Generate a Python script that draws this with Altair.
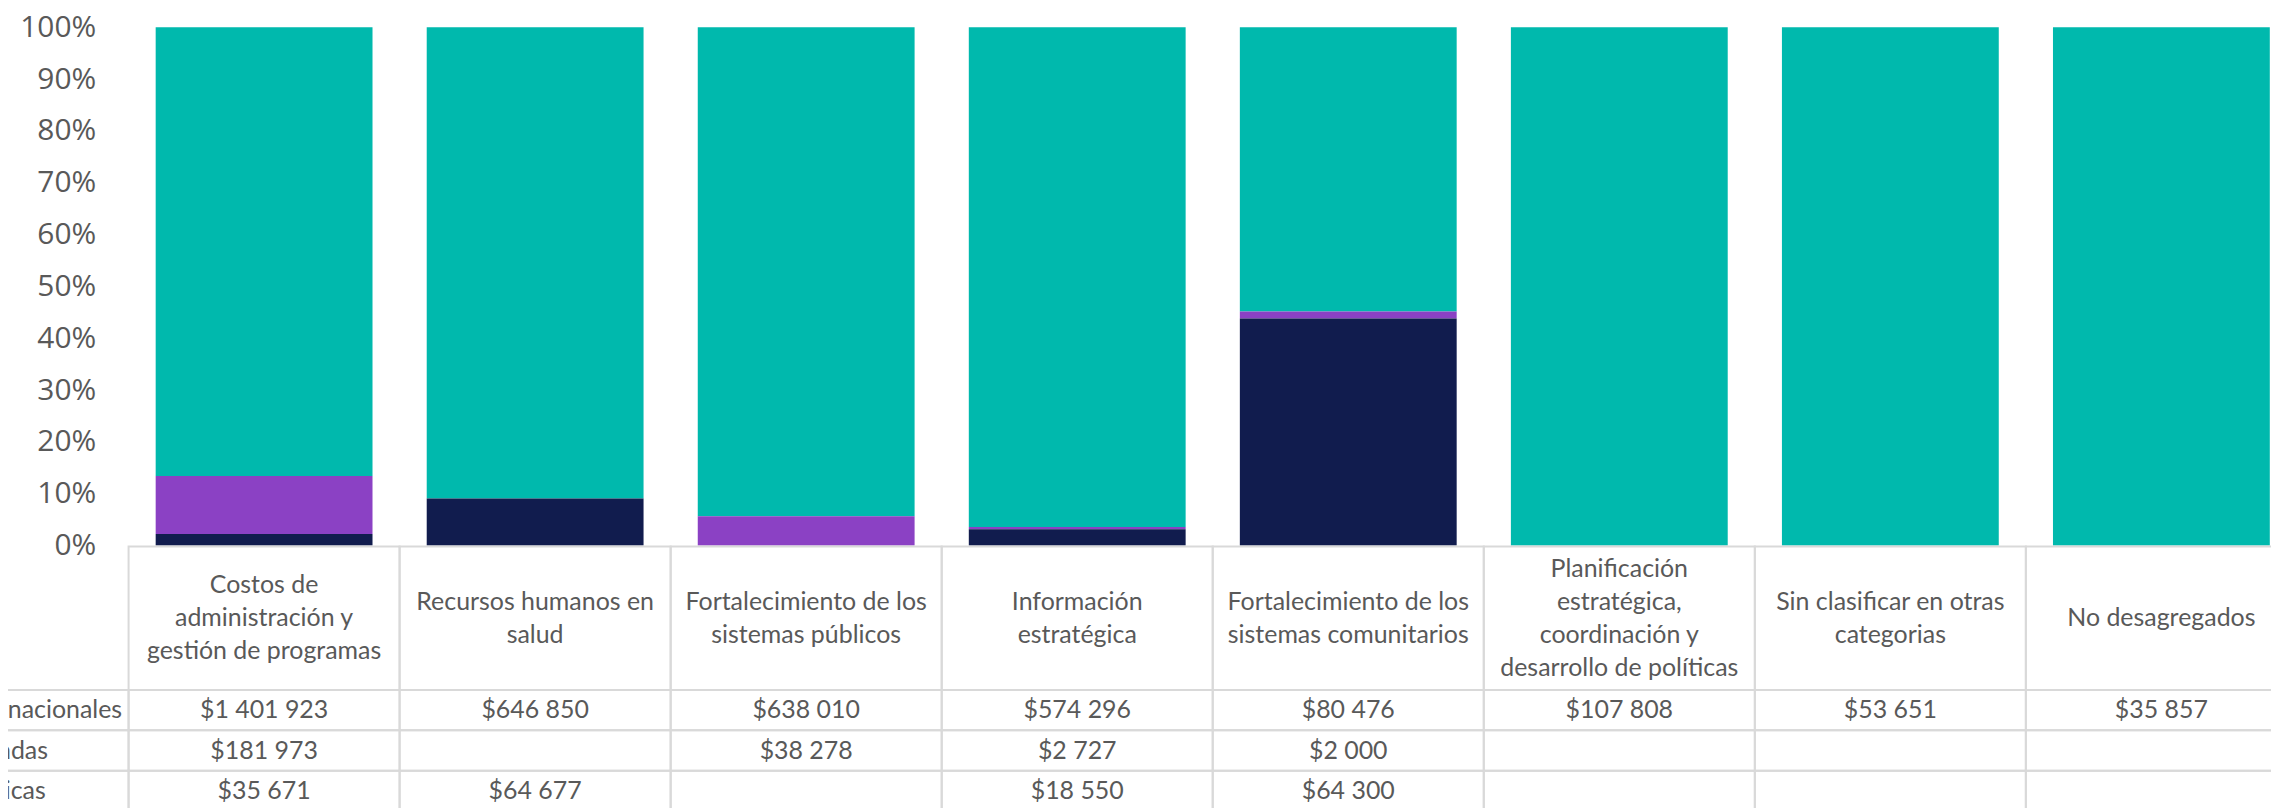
import altair as alt
import pandas as pd

# ---------------- data ----------------
categories = [
    "Costos de administración y gestión de programas",
    "Recursos humanos en salud",
    "Fortalecimiento de los sistemas públicos",
    "Información estratégica",
    "Fortalecimiento de los sistemas comunitarios",
    "Planificación estratégica, coordinación y desarrollo de políticas",
    "Sin clasificar en otras categorias",
    "No desagregados",
]
header_lines = [
    ["Costos de", "administración y", "gestión de programas"],
    ["Recursos humanos en", "salud"],
    ["Fortalecimiento de los", "sistemas públicos"],
    ["Información", "estratégica"],
    ["Fortalecimiento de los", "sistemas comunitarios"],
    ["Planificación", "estratégica,", "coordinación y", "desarrollo de políticas"],
    ["Sin clasificar en otras", "categorias"],
    ["No desagregados"],
]
sources = ["Internacionales", "Privadas", "Públicas"]
internacionales = [1401923, 646850, 638010, 574296, 80476, 107808, 53651, 35857]
privadas = [181973, None, 38278, 2727, 2000, None, None, None]
publicas = [35671, 64677, None, 18550, 64300, None, None, None]
stack_order = {"Públicas": 0, "Privadas": 1, "Internacionales": 2}
colors = ["#00B9AD", "#8B41C4", "#111C4E"]

LABEL_COL = "Fuente"
TEXT = "#595959"
LINE = "#D9D9D9"
FONT = "Lato"
FS = 25


def fmt(v):
    if v is None:
        return ""
    return "$" + f"{int(v):,}".replace(",", " ")


rows = []
for i, c in enumerate(categories):
    for s, vals in zip(sources, [internacionales, privadas, publicas]):
        v = vals[i]
        rows.append({"category": c, "source": s, "value": v,
                     "label": fmt(v), "ord": stack_order[s]})
cells = pd.DataFrame(rows)
bars_df = cells.dropna(subset=["value"])

header_df = pd.DataFrame({"category": categories, "row": "h"})
hl = []
for c, lines in zip(categories, header_lines):
    n = len(lines)
    for k, t in enumerate(lines):
        hl.append({"category": c, "line": t, "pos": k - (n - 1) / 2})
hline_df = pd.DataFrame(hl)

label_rows = pd.DataFrame({"category": LABEL_COL, "source": sources, "label": sources})
body_grid = pd.concat([cells[["category", "source", "label"]], label_rows], ignore_index=True)

STEP = 272
N = len(categories)
BAR_H = 520
HEAD_TOP, HEAD_BOT = 521, 665
ROW_H = 40.5
LINE_H = 33
head_mid = (HEAD_TOP + HEAD_BOT) / 2

bar_x = alt.Scale(domain=categories, range=[0, STEP * N], paddingInner=0.2, paddingOuter=0.1)
tab_x = alt.Scale(domain=[LABEL_COL] + categories, range=[-STEP, STEP * N], paddingInner=0, paddingOuter=0)
head_y = alt.Scale(domain=["h"], range=[HEAD_TOP, HEAD_BOT], paddingInner=0, paddingOuter=0)
line_y = alt.Scale(domain=[-2, 2], range=[head_mid - 2 * LINE_H, head_mid + 2 * LINE_H], nice=False, zero=False)
body_y = alt.Scale(domain=sources, range=[HEAD_BOT, HEAD_BOT + 3 * ROW_H], paddingInner=0, paddingOuter=0)

bars = alt.Chart(bars_df).mark_bar().encode(
    x=alt.X("category:N", scale=bar_x, axis=None),
    y=alt.Y("value:Q", stack="normalize",
            scale=alt.Scale(domain=[0, 1], range=[BAR_H, 0], nice=False),
            axis=alt.Axis(values=[i / 10 for i in range(11)], format=".0%",
                          domain=False, ticks=False, grid=False, title=None,
                          labelFont="Open Sans", labelFontSize=30,
                          labelColor=TEXT, labelPadding=33)),
    color=alt.Color("source:N", scale=alt.Scale(domain=sources, range=colors), legend=None),
    order=alt.Order("ord:Q"),
)

head_cells = alt.Chart(header_df).mark_rect(fill="white", fillOpacity=0, stroke=LINE, strokeWidth=2).encode(
    x=alt.X("category:N", scale=tab_x, axis=None),
    y=alt.Y("row:N", scale=head_y, axis=None),
)
head_text = alt.Chart(hline_df).mark_text(
    font=FONT, fontSize=FS, color=TEXT, align="center", baseline="middle").encode(
    x=alt.X("category:N", scale=tab_x, axis=None),
    y=alt.Y("pos:Q", scale=line_y, axis=None),
    text="line:N",
)

body_cells = alt.Chart(body_grid).mark_rect(fill="white", fillOpacity=0, stroke=LINE, strokeWidth=2).encode(
    x=alt.X("category:N", scale=tab_x, axis=None),
    y=alt.Y("source:N", scale=body_y, axis=None),
)
body_text = alt.Chart(cells).mark_text(
    font=FONT, fontSize=FS, color=TEXT, align="center", baseline="middle").encode(
    x=alt.X("category:N", scale=tab_x, axis=None),
    y=alt.Y("source:N", scale=body_y, axis=None),
    text="label:N",
)
row_text = alt.Chart(label_rows).mark_text(
    font=FONT, fontSize=FS, color=TEXT, align="left", baseline="middle", dx=-37).encode(
    x=alt.X("category:N", scale=tab_x, axis=None),
    y=alt.Y("source:N", scale=body_y, axis=None),
    text="label:N",
)

chart = alt.layer(bars, head_cells, head_text, body_cells, body_text, row_text).resolve_scale(
    x="independent", y="independent"
).properties(
    width=2150, height=782,
    autosize=alt.AutoSizeParams(type="none"),
    padding={"left": 121, "top": 18, "right": 0, "bottom": 0},
).configure_view(stroke=None)

chart.save("out.html", embed_options={"renderer": "svg", "actions": False})
